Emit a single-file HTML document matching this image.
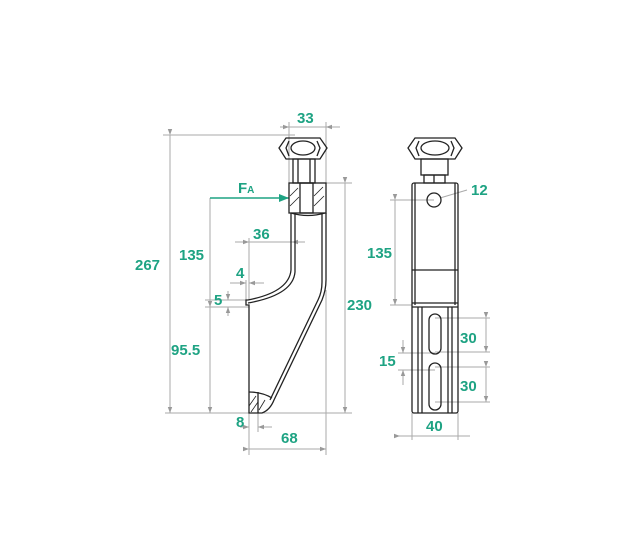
<!DOCTYPE html>
<html><head><style>body{margin:0;background:#fff}svg{display:block}text{font-family:"Liberation Sans",sans-serif;font-weight:bold;fill:#1ea383;font-size:15px}</style></head>
<body>
<svg width="629" height="544" viewBox="0 0 629 544">
<defs><marker id="a" markerWidth="6" markerHeight="6" refX="6" refY="3" orient="auto"><path d="M0,0.8L6,3L0,5.2z" fill="#999"/></marker>
<marker id="g" markerWidth="10" markerHeight="8" refX="10" refY="4" orient="auto" markerUnits="userSpaceOnUse"><path d="M0,0L10,4L0,8z" fill="#1ea383"/></marker></defs>
<g stroke="#aaa" stroke-width="1" fill="none">
<line x1="163" y1="135" x2="295" y2="135"/>
<line x1="165" y1="413" x2="352" y2="413"/>
<line x1="326" y1="183" x2="352" y2="183"/>
<line x1="170" y1="135" x2="170" y2="413" marker-start="url(#a)" marker-end="url(#a)"/>
<line x1="345" y1="183" x2="345" y2="413" marker-start="url(#a)" marker-end="url(#a)"/>
<line x1="210" y1="198" x2="210" y2="413" marker-end="url(#a)"/>
<line x1="280" y1="127" x2="289" y2="127" marker-end="url(#a)"/><line x1="340" y1="127" x2="326" y2="127" marker-end="url(#a)"/><line x1="289" y1="127" x2="326" y2="127"/>
<line x1="289" y1="122" x2="289" y2="183"/><line x1="326" y1="122" x2="326" y2="183"/>
<line x1="235" y1="242" x2="249" y2="242" marker-end="url(#a)"/><line x1="305" y1="242" x2="292" y2="242" marker-end="url(#a)"/><line x1="249" y1="242" x2="292" y2="242"/>
<line x1="249" y1="238" x2="249" y2="300"/>
<line x1="230" y1="283" x2="246" y2="283" marker-end="url(#a)"/><line x1="264" y1="283" x2="249" y2="283" marker-end="url(#a)"/>
<line x1="246" y1="280" x2="246" y2="300"/>
<line x1="205" y1="300" x2="246" y2="300"/><line x1="205" y1="307" x2="249" y2="307"/>
<line x1="228" y1="291" x2="228" y2="300" marker-end="url(#a)"/><line x1="228" y1="316" x2="228" y2="307" marker-end="url(#a)"/>
<line x1="210" y1="307" x2="210" y2="320" marker-start="url(#a)"/>
<line x1="249" y1="413" x2="249" y2="455"/><line x1="258" y1="413" x2="258" y2="432"/><line x1="326" y1="290" x2="326" y2="455"/>
<line x1="240" y1="427" x2="249" y2="427" marker-end="url(#a)"/><line x1="272" y1="427" x2="258" y2="427" marker-end="url(#a)"/>
<line x1="249" y1="449" x2="326" y2="449" marker-start="url(#a)" marker-end="url(#a)"/>
<line x1="390" y1="200" x2="434" y2="200"/><line x1="390" y1="305" x2="412" y2="305"/>
<line x1="395" y1="200" x2="395" y2="305" marker-start="url(#a)" marker-end="url(#a)"/>
<line x1="440" y1="198" x2="467" y2="190"/>
<line x1="435" y1="318" x2="490" y2="318"/><line x1="435" y1="352" x2="490" y2="352"/><line x1="435" y1="367" x2="490" y2="367"/><line x1="435" y1="402" x2="490" y2="402"/>
<line x1="486" y1="318" x2="486" y2="352" marker-start="url(#a)" marker-end="url(#a)"/>
<line x1="486" y1="367" x2="486" y2="402" marker-start="url(#a)" marker-end="url(#a)"/>
<line x1="398" y1="353" x2="435" y2="353"/><line x1="398" y1="370" x2="435" y2="370"/>
<line x1="403" y1="340" x2="403" y2="353" marker-end="url(#a)"/><line x1="403" y1="385" x2="403" y2="370" marker-end="url(#a)"/>
<line x1="412" y1="413" x2="412" y2="440"/><line x1="458" y1="413" x2="458" y2="440"/>
<line x1="397" y1="436" x2="470" y2="436"/><line x1="400" y1="436" x2="412" y2="436" marker-start="url(#a)"/>
</g>
<line x1="210" y1="198" x2="289" y2="198" stroke="#1ea383" stroke-width="1.5" marker-end="url(#g)"/>
<g stroke="#222" stroke-width="1.3" fill="none">
<path d="M279,148 L286,138 L320,138 L327,148 L320,159 L286,159 Z"/>
<ellipse cx="303" cy="148" rx="12" ry="7"/>
<path d="M289,141 L286,148 L289,156 M317,141 L320,148 L317,156"/>
<rect x="293" y="159" width="22" height="24"/>
<line x1="298" y1="159" x2="298" y2="183"/><line x1="310" y1="159" x2="310" y2="183"/>
<rect x="289" y="183" width="37" height="30"/>
<rect x="300" y="183" width="13" height="30"/>
<path d="M291,213 Q308,218 325,213"/>
<g stroke-width="0.8"><path d="M290,196 L298,188 M290,206 L299,197 M314,196 L323,187 M314,206 L324,196"/></g>
<path d="M291,213 L291,270 Q289,292 248,300 L246,300 L246,305 L249,305 L249,413 L262,413 Q270,410 274,400 L322,300 Q326,290 326,280 L326,213"/>
<path d="M295,213 L295,272 Q293,295 248,303"/>
<path d="M322,213 L322,282 Q322,292 318,300 L270,400"/>
<path d="M249,392 Q262,392 272,398"/>
<line x1="258" y1="392" x2="258" y2="413"/>
<g stroke-width="0.8"><path d="M249,406 L256,396 M251,412 L258,402 M259,410 L265,400"/></g>
<path d="M408,148 L415,138 L455,138 L462,148 L455,159 L415,159 Z"/>
<ellipse cx="435" cy="148" rx="14" ry="7"/>
<path d="M419,141 L416,148 L419,156 M451,141 L454,148 L451,156"/>
<rect x="421" y="159" width="27" height="16"/>
<rect x="424" y="175" width="21" height="8"/><line x1="434" y1="175" x2="434" y2="183"/>
<rect x="412" y="183" width="46" height="230" rx="2"/>
<line x1="415" y1="183" x2="415" y2="305"/><line x1="455" y1="183" x2="455" y2="305"/>
<circle cx="434" cy="200" r="7"/>
<line x1="412" y1="270" x2="458" y2="270"/>
<line x1="412" y1="303" x2="458" y2="303"/><line x1="412" y1="307" x2="458" y2="307"/>
<line x1="418" y1="307" x2="418" y2="413"/><line x1="422" y1="307" x2="422" y2="413"/>
<line x1="448" y1="307" x2="448" y2="413"/><line x1="452" y1="307" x2="452" y2="413"/>
<rect x="429" y="314" width="12" height="40" rx="6"/>
<rect x="429" y="363" width="12" height="47" rx="6"/>
</g>
<text x="297" y="123">33</text>
<text x="135" y="270">267</text>
<text x="347" y="310">230</text>
<text x="238" y="193">F<tspan font-size="10">A</tspan></text>
<text x="179" y="260">135</text>
<text x="253" y="239">36</text>
<text x="236" y="278">4</text>
<text x="214" y="305">5</text>
<text x="171" y="355">95.5</text>
<text x="236" y="427">8</text>
<text x="281" y="443">68</text>
<text x="471" y="195">12</text>
<text x="367" y="258">135</text>
<text x="460" y="343">30</text>
<text x="460" y="391">30</text>
<text x="379" y="366">15</text>
<text x="426" y="431">40</text>
</svg>
</body></html>
